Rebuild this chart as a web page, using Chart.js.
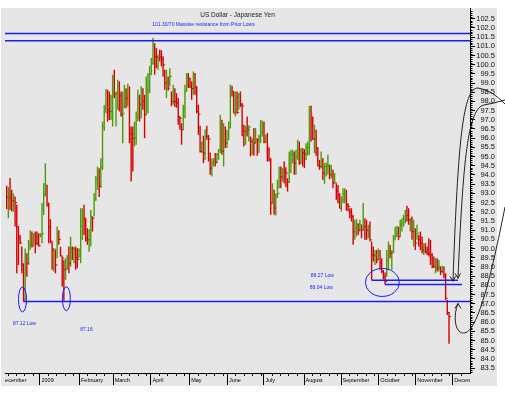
<!DOCTYPE html>
<html>
<head>
<meta charset="utf-8">
<script src="https://cdn.jsdelivr.net/npm/chart.js@4.4.0/dist/chart.umd.min.js"></script>
<style>
  html, body { margin: 0; padding: 0; background: #fff; }
</style>
</head>
<body>
<canvas id="usdjpy" width="505" height="393"></canvas>
<script>
// daily USD/JPY bars, Dec 2008 - Nov 2009 (one entry per trading day)
const high = [
  93.41, 93.34, 93.83, 93.19, 93.00, 92.83, 92.40, 91.20, 90.74, 90.11,
  89.20, 90.00, 89.74, 90.47, 91.00, 90.92, 90.83, 90.92, 90.92, 90.83,
  90.83, 92.47, 93.56, 94.64, 93.46, 92.50, 91.60, 90.38, 90.00, 89.93,
  91.20, 91.00, 90.10, 89.56, 89.38, 89.47, 89.65, 90.11, 90.65, 90.11,
  90.10, 90.11, 90.02, 90.02, 92.19, 92.19, 92.38, 91.65, 91.10, 91.02,
  92.10, 91.75, 93.00, 93.95, 94.45, 94.37, 94.91, 96.90, 97.80, 98.67,
  98.63, 98.54, 98.36, 99.45, 99.72, 98.54, 99.18, 99.09, 98.54, 98.54,
  98.90, 98.72, 98.96, 98.82, 96.64, 96.64, 96.90, 97.45, 98.63, 98.36,
  98.82, 98.72, 98.36, 99.36, 99.54, 99.94, 100.36, 101.45, 101.17, 100.90,
  100.54, 100.81, 100.78, 100.45, 99.72, 99.72, 99.36, 99.81, 98.54, 98.90,
  98.72, 98.45, 98.18, 97.18, 96.82, 97.82, 98.90, 99.54, 99.54, 99.27,
  99.09, 99.63, 99.54, 98.82, 97.82, 96.68, 95.82, 96.13, 96.49, 96.68,
  96.18, 95.22, 94.91, 94.91, 95.19, 95.19, 95.40, 97.27, 97.00, 96.82,
  96.64, 96.46, 96.91, 98.91, 98.85, 98.54, 98.54, 98.54, 98.45, 98.54,
  97.91, 96.73, 96.68, 97.18, 96.70, 96.10, 96.00, 96.55, 96.55, 95.99,
  96.19, 97.00, 96.96, 96.91, 96.19, 96.28, 95.51, 94.91, 93.55, 93.19,
  93.01, 93.74, 94.46, 94.46, 94.37, 94.73, 94.42, 93.82, 95.28, 95.37,
  95.37, 95.28, 95.37, 95.91, 95.82, 95.46, 95.46, 95.40, 95.73, 95.82,
  97.76, 97.76, 97.18, 96.73, 96.46, 95.51, 94.82, 95.28, 94.91, 94.64,
  94.68, 95.10, 94.55, 94.55, 94.28, 94.10, 93.55, 93.46, 93.01, 92.83,
  93.28, 93.28, 93.19, 92.46, 92.19, 92.19, 91.83, 91.56, 91.60, 91.38,
  91.56, 91.29, 92.47, 91.65, 91.56, 91.29, 91.47, 90.38, 90.11, 89.92,
  89.92, 90.01, 89.92, 89.47, 88.84, 88.69, 89.92, 90.38, 90.20, 89.92,
  90.74, 91.19, 91.23, 91.19, 91.56, 91.65, 91.83, 92.10, 92.32, 92.19,
  91.65, 91.74, 91.56, 91.10, 91.29, 90.74, 90.92, 90.65, 90.29, 90.29,
  90.11, 90.56, 90.47, 89.74, 89.56, 89.47, 89.47, 89.38, 89.02, 89.06,
  89.02, 88.65, 87.20, 86.55
];
const low = [
  92.14, 91.65, 92.10, 92.01, 92.00, 91.20, 88.65, 89.10, 90.25, 88.65,
  87.12, 87.20, 88.47, 89.10, 89.93, 90.05, 90.20, 89.74, 90.20, 90.10,
  90.61, 90.29, 91.83, 92.83, 92.28, 90.29, 90.29, 88.84, 88.75, 88.65,
  89.47, 90.20, 89.56, 87.93, 87.16, 88.29, 88.84, 88.65, 89.02, 89.38,
  89.20, 88.84, 88.93, 89.47, 89.20, 90.47, 90.74, 90.38, 90.20, 89.83,
  90.11, 90.92, 91.75, 92.60, 93.19, 92.80, 93.30, 94.28, 96.40, 97.36,
  96.90, 96.99, 96.99, 96.64, 98.18, 96.64, 97.55, 97.45, 97.18, 95.73,
  97.63, 97.63, 97.73, 95.73, 93.64, 94.19, 95.55, 95.64, 97.00, 96.90,
  97.09, 97.55, 96.00, 97.27, 97.36, 98.45, 99.45, 99.99, 99.45, 99.81,
  99.72, 100.18, 99.90, 99.36, 98.63, 98.18, 98.60, 98.82, 97.73, 97.82,
  97.69, 97.66, 96.73, 96.46, 95.64, 96.46, 97.09, 98.54, 98.73, 98.73,
  98.09, 98.36, 98.36, 97.36, 96.18, 95.22, 95.19, 94.64, 94.82, 95.91,
  94.73, 94.01, 93.92, 94.46, 94.46, 94.64, 94.82, 95.19, 95.10, 94.46,
  95.46, 95.46, 95.91, 96.55, 98.27, 97.36, 97.18, 97.33, 97.55, 97.69,
  96.10, 95.55, 95.64, 96.09, 95.82, 95.01, 95.10, 95.05, 95.73, 95.05,
  95.19, 95.73, 96.09, 95.73, 95.73, 94.73, 94.73, 91.83, 92.46, 91.83,
  91.80, 92.74, 93.28, 93.28, 93.64, 93.55, 93.34, 93.10, 93.60, 94.10,
  94.64, 94.01, 94.01, 94.82, 94.55, 94.64, 94.46, 94.37, 94.82, 95.04,
  95.10, 95.82, 95.91, 95.19, 95.04, 94.46, 94.28, 94.37, 93.73, 93.52,
  93.92, 94.01, 93.77, 93.82, 93.28, 93.55, 92.65, 92.46, 92.19, 92.01,
  92.46, 92.46, 92.06, 92.01, 91.65, 91.47, 90.20, 90.47, 90.65, 90.74,
  90.92, 90.56, 91.00, 90.47, 90.47, 90.56, 90.38, 88.27, 89.29, 89.11,
  89.20, 89.38, 88.84, 88.65, 88.32, 88.04, 88.47, 88.84, 89.47, 88.84,
  89.74, 90.47, 90.65, 90.47, 90.65, 90.92, 91.19, 91.38, 91.47, 91.29,
  90.92, 90.47, 90.11, 89.92, 90.47, 90.11, 89.92, 89.74, 89.65, 89.74,
  89.65, 89.56, 89.11, 88.93, 88.95, 88.65, 88.75, 88.75, 88.56, 88.65,
  88.38, 87.20, 86.39, 84.82
];
const close = [
  92.80, 92.95, 92.74, 92.60, 92.75, 92.50, 91.20, 90.56, 90.30, 89.10,
  87.20, 89.38, 89.20, 90.20, 90.25, 90.15, 90.80, 90.29, 90.22, 90.15,
  90.74, 90.80, 92.92, 93.46, 92.38, 91.16, 90.40, 89.93, 89.98, 89.10,
  90.70, 90.50, 89.60, 89.47, 88.84, 88.90, 89.30, 89.20, 90.00, 89.98,
  90.05, 89.50, 89.40, 89.90, 91.20, 91.75, 91.65, 90.56, 90.47, 91.02,
  91.75, 91.65, 92.65, 93.77, 94.20, 93.37, 94.40, 96.64, 97.60, 97.69,
  97.54, 97.45, 98.18, 98.54, 98.40, 98.45, 98.50, 98.30, 97.27, 97.36,
  98.45, 98.18, 98.30, 96.24, 96.20, 95.99, 96.00, 96.96, 97.90, 97.85,
  98.54, 98.00, 97.27, 98.54, 98.60, 99.45, 100.09, 101.08, 100.45, 100.40,
  100.45, 100.40, 100.27, 99.99, 99.00, 99.10, 98.72, 99.36, 98.00, 98.10,
  98.00, 97.90, 97.18, 97.09, 96.46, 97.63, 98.54, 99.30, 99.27, 98.82,
  98.70, 99.09, 98.78, 97.45, 97.30, 95.28, 95.30, 95.19, 96.28, 96.10,
  95.95, 94.37, 94.64, 94.73, 94.68, 95.10, 95.36, 95.40, 95.28, 95.80,
  95.73, 95.91, 96.55, 98.70, 98.55, 97.36, 97.45, 97.40, 98.41, 97.82,
  97.75, 96.37, 96.55, 96.46, 96.60, 95.82, 95.85, 95.73, 95.91, 95.90,
  96.10, 96.37, 96.64, 95.80, 96.00, 95.37, 94.86, 92.46, 92.50, 92.20,
  92.90, 93.00, 94.00, 93.90, 94.28, 94.19, 94.10, 93.60, 94.64, 95.10,
  95.15, 94.64, 95.00, 95.05, 94.64, 95.28, 95.20, 95.15, 95.46, 95.50,
  97.55, 97.00, 95.95, 95.99, 95.46, 94.50, 94.46, 94.50, 94.10, 94.46,
  94.50, 94.55, 94.01, 94.20, 93.55, 93.60, 93.10, 92.92, 92.19, 92.65,
  92.97, 93.00, 92.37, 92.28, 91.96, 91.74, 90.90, 91.10, 91.29, 91.00,
  91.29, 91.00, 91.29, 91.20, 91.00, 91.05, 90.47, 89.65, 89.60, 89.65,
  89.38, 89.65, 89.20, 88.75, 88.47, 88.20, 89.38, 90.10, 89.74, 89.80,
  90.47, 90.65, 90.80, 90.65, 91.29, 91.38, 91.56, 91.83, 91.80, 91.56,
  91.60, 90.92, 91.00, 90.29, 90.83, 90.47, 90.29, 89.92, 90.10, 89.83,
  89.74, 89.70, 89.65, 89.02, 89.00, 89.38, 88.93, 89.02, 88.75, 88.93,
  88.56, 87.30, 86.52, 86.30
];

// month boundaries, in trading-day index units
const monthStarts = [-4.5, 19.5, 43, 63, 85.5, 108.5, 131, 152.5, 176.5, 198.5, 221, 243, 265];
const monthNames = ['December', '2009', 'February', 'March', 'April', 'May', 'June', 'July',
  'August', 'September', 'October', 'November', 'December'];

const priceTicks = [
  83.5, 84.0, 84.5, 85.0, 85.5, 86.0, 86.5, 87.0, 87.5, 88.0, 88.5, 89.0, 89.5,
  90.0, 90.5, 91.0, 91.5, 92.0, 92.5, 93.0, 93.5, 94.0, 94.5, 95.0, 95.5, 96.0,
  96.5, 97.0, 97.5, 98.0, 98.5, 99.0, 99.5, 100.0, 100.5, 101.0, 101.5, 102.0, 102.5
];

// resistance band and the marked lows
const resistance = [101.30, 101.70];
const lowValues = [87.12, 87.16, 88.27, 88.04];
const lowBars = [10, 34, 217, 225];
const lowLabels = ['87.12 Low', '87.16', '88.27 Low', '88.04 Low'];

const GREEN = '#4c9a08';
const RED = '#d40000';
const BLUE = '#1a1aff';
const FONT = '"Liberation Sans", Arial, sans-serif';

Chart.defaults.font.family = FONT;

const barColors = close.map((c, i) => (i > 0 && c > close[i - 1]) ? GREEN : RED);

const backdrop = {
  id: 'backdrop',
  beforeDraw(chart) {
    const ctx = chart.ctx;
    ctx.save();
    ctx.fillStyle = '#fff';
    ctx.fillRect(0, 0, chart.width, chart.height);
    ctx.fillStyle = '#e6e6e6';
    ctx.fillRect(1, 8, 496, 378);
    ctx.restore();
  }
};

const minorTicks = {
  id: 'minorTicks',
  afterDraw(chart) {
    const y = chart.scales.y, ctx = chart.ctx, x0 = chart.chartArea.right;
    ctx.save();
    ctx.strokeStyle = '#000';
    ctx.lineWidth = 1;
    ctx.beginPath();
    for (let k = Math.ceil(y.min * 10); k <= Math.floor(y.max * 10); k++) {
      if (k % 5 === 0) continue;
      const py = Math.round(y.getPixelForValue(k / 10)) + 0.5;
      ctx.moveTo(x0, py);
      ctx.lineTo(x0 + 2.5, py);
    }
    ctx.stroke();
    ctx.restore();
  }
};

const monthAxis = {
  id: 'monthAxis',
  afterDraw(chart) {
    const { ctx, chartArea: a } = chart;
    const x = chart.scales.x;
    ctx.save();
    ctx.strokeStyle = '#000';
    ctx.lineWidth = 1;
    ctx.beginPath();
    ctx.moveTo(a.left, a.bottom + 0.5);
    ctx.lineTo(a.right, a.bottom + 0.5);
    monthStarts.forEach((m, i) => {
      const px = Math.round(x.getPixelForValue(m)) + 0.5;
      ctx.moveTo(px, a.bottom);
      ctx.lineTo(px, a.bottom + 12);
      const next = i + 1 < monthStarts.length ? monthStarts[i + 1] : x.max;
      for (let w = m + 5; w < next - 1; w += 5) {
        const wx = Math.round(x.getPixelForValue(w)) + 0.5;
        ctx.moveTo(wx, a.bottom);
        ctx.lineTo(wx, a.bottom + 3);
      }
    });
    ctx.stroke();
    ctx.beginPath();
    ctx.rect(a.left, a.bottom, a.right - a.left, 20);
    ctx.clip();
    ctx.fillStyle = '#000';
    ctx.font = '5.5px ' + FONT;
    ctx.textBaseline = 'middle';
    ctx.textAlign = 'left';
    monthStarts.forEach((m, i) => ctx.fillText(monthNames[i], x.getPixelForValue(m) + 2, a.bottom + 7.5));
    ctx.restore();
  }
};

const notes = {
  id: 'notes',
  afterDatasetsDraw(chart) {
    const { ctx, chartArea: a } = chart;
    const x = chart.scales.x, y = chart.scales.y;
    const last = close.length - 1;
    ctx.save();

    // blue levels
    ctx.strokeStyle = BLUE;
    ctx.lineWidth = 1.5;
    ctx.beginPath();
    resistance.forEach(v => {
      const py = y.getPixelForValue(v);
      ctx.moveTo(a.left, py);
      ctx.lineTo(a.right, py);
    });
    let py = y.getPixelForValue(lowValues[0]);
    ctx.moveTo(x.getPixelForValue(lowBars[0]), py);
    ctx.lineTo(a.right, py);
    py = y.getPixelForValue(lowValues[2]);
    ctx.moveTo(x.getPixelForValue(lowBars[2]), py);
    ctx.lineTo(x.getPixelForValue(last) + 9, py);
    py = y.getPixelForValue(lowValues[3]);
    ctx.moveTo(x.getPixelForValue(lowBars[3]), py);
    ctx.lineTo(x.getPixelForValue(last) + 13, py);
    ctx.stroke();

    // circles round the lows
    ctx.lineWidth = 1;
    ctx.beginPath();
    ctx.ellipse(x.getPixelForValue(lowBars[0]) - 1, y.getPixelForValue(lowValues[0]) - 2, 4, 12.5, 0, 0, Math.PI * 2);
    ctx.stroke();
    ctx.beginPath();
    ctx.ellipse(x.getPixelForValue(lowBars[1]) + 2.5, y.getPixelForValue(lowValues[1]) - 2, 4, 12, 0, 0, Math.PI * 2);
    ctx.stroke();
    ctx.beginPath();
    ctx.ellipse((x.getPixelForValue(lowBars[2]) + x.getPixelForValue(lowBars[3])) / 2 + 4,
      y.getPixelForValue((lowValues[2] + lowValues[3]) / 2), 17, 14, 0, 0, Math.PI * 2);
    ctx.stroke();

    // labels
    ctx.fillStyle = BLUE;
    ctx.font = '5px ' + FONT;
    ctx.textBaseline = 'middle';
    ctx.textAlign = 'left';
    const labelAt = [[3.7, 85.92], [43.7, 85.57], [180.8, 88.51], [180.2, 87.86]];
    lowLabels.forEach((t, i) => ctx.fillText(t, x.getPixelForValue(labelAt[i][0]), y.getPixelForValue(labelAt[i][1])));

    ctx.textAlign = 'center';
    ctx.fillText('101.30/70 Massive resistance from Prior Lows', x.getPixelForValue(117), y.getPixelForValue(102.17));
    ctx.fillStyle = '#222';
    ctx.font = '6.5px ' + FONT;
    ctx.fillText('US Dollar - Japanese Yen', (a.left + a.right) / 2, a.top + 7);

    // hand-drawn arrows
    const tipA = { x: x.getPixelForValue(last) + 4, y: y.getPixelForValue(lowValues[2]) + 1 };
    const tipB = { x: x.getPixelForValue(last) + 9, y: y.getPixelForValue(lowValues[2]) - 2 };
    const tipC = { x: x.getPixelForValue(last) + 9, y: y.getPixelForValue(lowValues[0]) + 2 };
    ctx.strokeStyle = '#222';
    ctx.lineWidth = 1;
    ctx.beginPath();
    ctx.moveTo(tipA.x, tipA.y);
    ctx.bezierCurveTo(tipA.x + 5, 140, tipA.x + 10, 88, tipA.x + 25, 88);
    ctx.quadraticCurveTo(tipA.x + 39, 90, 505, 104);
    ctx.moveTo(tipB.x, tipB.y);
    ctx.bezierCurveTo(tipB.x + 5, 160, tipB.x + 10, 108, tipB.x + 26, 105);
    ctx.quadraticCurveTo(tipB.x + 37, 103, 505, 100);
    ctx.moveTo(tipC.x, tipC.y);
    ctx.bezierCurveTo(tipC.x - 6, tipC.y + 15, tipC.x - 2, tipC.y + 33, tipC.x + 8, tipC.y + 29);
    ctx.bezierCurveTo(tipC.x + 22, tipC.y + 23, tipC.x + 36, 262, 505, 207);
    // arrow heads
    ctx.moveTo(tipA.x - 3, tipA.y - 5); ctx.lineTo(tipA.x, tipA.y); ctx.lineTo(tipA.x + 2.5, tipA.y - 5);
    ctx.moveTo(tipB.x - 3, tipB.y - 5); ctx.lineTo(tipB.x, tipB.y); ctx.lineTo(tipB.x + 2.5, tipB.y - 5);
    ctx.moveTo(tipC.x - 3, tipC.y + 5); ctx.lineTo(tipC.x, tipC.y); ctx.lineTo(tipC.x + 3, tipC.y + 5);
    ctx.stroke();
    ctx.restore();
  }
};

new Chart(document.getElementById('usdjpy'), {
  type: 'bar',
  data: {
    datasets: [
      {
        type: 'bar',
        data: low.map((l, i) => ({ x: i, y: [l, high[i]] })),
        backgroundColor: barColors,
        borderWidth: 0,
        barThickness: 1.4,
        inflateAmount: 0,
        order: 2
      },
      {
        type: 'scatter',
        data: close.map((c, i) => ({ x: i + 0.6, y: c })),
        pointStyle: 'line',
        radius: 1,
        borderWidth: 1,
        borderColor: barColors,
        order: 1
      }
    ]
  },
  options: {
    responsive: false,
    animation: false,
    devicePixelRatio: 1,
    layout: { padding: { top: 8, bottom: 20, left: 0, right: 10 } },
    plugins: {
      legend: { display: false },
      tooltip: { enabled: false }
    },
    scales: {
      x: { type: 'linear', display: false, offset: false, min: -1, max: 275.5 },
      y: {
        position: 'right',
        min: 83.23,
        max: 103.08,
        afterBuildTicks: s => { s.ticks = priceTicks.map(v => ({ value: v })); },
        afterFit: s => { s.width = 25; },
        grid: { drawOnChartArea: false, drawTicks: true, tickLength: 5, color: '#000' },
        border: { display: true, color: '#000' },
        ticks: {
          autoSkip: false,
          crossAlign: 'far',
          padding: 1,
          color: '#111',
          font: { size: 7.5 },
          callback: v => Number(v).toFixed(1)
        }
      }
    }
  },
  plugins: [backdrop, minorTicks, monthAxis, notes]
});
</script>
</body>
</html>
